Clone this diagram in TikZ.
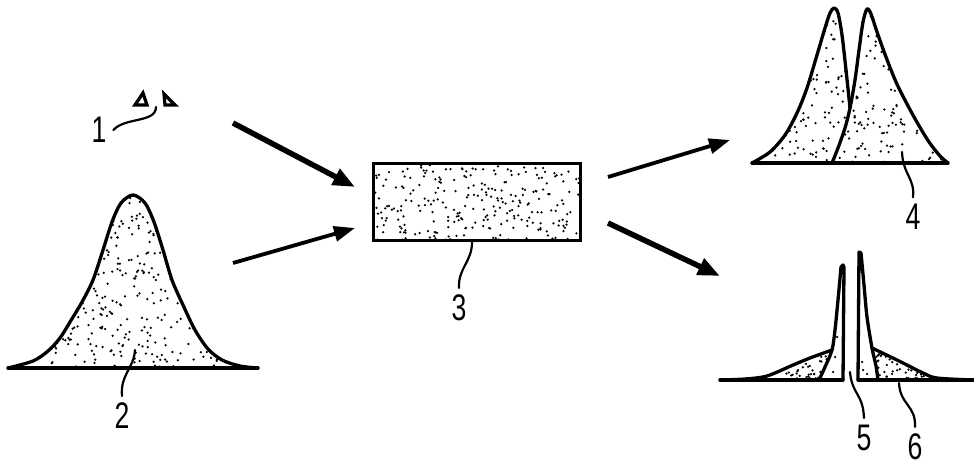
\documentclass[tikz,border=0pt]{standalone}
\usepackage{fontspec}
\setmainfont{Liberation Sans}
\usepackage{graphicx}
\usetikzlibrary{arrows.meta}
\newcommand{\mystipple}[5]{%
  \foreach \k in {1,...,#1}{%
    \pgfmathsetmacro{\px}{#2+rnd*(#3-#2)}%
    \pgfmathsetmacro{\py}{#4+rnd*(#5-#4)}%
    \fill (\px,\py) circle[radius=1.25pt];}}
\newcommand{\dig}[1]{\scalebox{0.72}[1]{#1}}
\begin{document}
\begin{tikzpicture}[x=1pt,y=-1pt,
  outline/.style={line width=3.3pt, line join=round, line cap=round},
  leader/.style={line width=2.2pt, line cap=round},
  bigarrow/.style={line width=5.5pt, -{Triangle[length=22pt,width=17pt]}},
  thinarrow/.style={line width=3.8pt, -{Triangle[length=21pt,width=15pt]}},
  lbl/.style={inner sep=0pt, outer sep=7pt, font=\fontsize{37}{39}\selectfont},
  spot/.style={fill=black}]
\useasboundingbox (0,0) rectangle (974,466);
\pgfmathsetseed{7}

% ---------- item 1 (two small triangles)
\draw[line width=3.2pt, line join=miter] (135,105) -- (143,93) -- (147,105) -- cycle;
\draw[line width=3.2pt, line join=miter] (164,94) -- (175,105) -- (165,105) -- cycle;
\coordinate (t1) at (156,107);

% ---------- item 2 (bell curve)
\begin{scope}
\clip plot[smooth] coordinates {(8,368) (33,361) (48,351) (60,338) (70,322) (82,302) (93,280) (103,250) (112,222) (121,203) (133,195) (145,203) (154,222) (163,250) (172,280) (183,305) (195,330) (208,349) (222,360) (240,366) (258,368)} -- cycle;
\mystipple{560}{8}{258}{195}{368}
\end{scope}
\draw[outline] plot[smooth] coordinates {(8,368) (33,361) (48,351) (60,338) (70,322) (82,302) (93,280) (103,250) (112,222) (121,203) (133,195) (145,203) (154,222) (163,250) (172,280) (183,305) (195,330) (208,349) (222,360) (240,366) (258,368)};
\coordinate (b2l) at (8,368);
\coordinate (b2r) at (258,368);
\draw[outline] (b2l) -- (b2r);
\coordinate (t2) at (135,350);

% ---------- item 3 (box)
\node[draw, line width=3.3pt, minimum width=207pt, minimum height=77pt, inner sep=0pt] (box) at (477,202) {};
\begin{scope}
\clip (box.south west) rectangle (box.north east);
\mystipple{260}{373}{581}{163}{241}
\end{scope}

% ---------- item 4 (double peak)
\begin{scope}
\clip plot[smooth] coordinates {(752,163) (770,152) (785,135) (797,113) (807,88) (817,55) (825,28) (830,13) (834,8) (838,13) (842,35) (846,70) (850,108)} -- plot[smooth] coordinates {(850,108) (855,80) (859,50) (863,22) (867,9) (871,14) (877,32) (886,57) (896,82) (907,104) (918,124) (929,142) (940,156) (948,163)} -- cycle;
\mystipple{330}{752}{948}{8}{163}
\end{scope}
\draw[outline] plot[smooth] coordinates {(752,163) (770,152) (785,135) (797,113) (807,88) (817,55) (825,28) (830,13) (834,8) (838,13) (842,35) (846,70) (850,108)};
\draw[outline] plot[smooth] coordinates {(832,163) (838,148) (845,128) (850,108) (855,80) (859,50) (863,22) (867,9) (871,14) (877,32) (886,57) (896,82) (907,104) (918,124) (929,142) (940,156) (948,163)};
\coordinate (b4l) at (752,163);
\coordinate (b4r) at (948,163);
\draw[outline] (b4l) -- (b4r);
\coordinate (t4) at (902,152);

% ---------- items 5 and 6 (split spikes)
\begin{scope}
\clip plot[smooth] coordinates {(720,380) (745,379) (767,376) (793,365) (810,358) (832,350)} -- plot[smooth] coordinates {(832,350) (825,367) (819,380)} -- cycle;
\mystipple{140}{720}{832}{348}{380}
\end{scope}
\begin{scope}
\clip plot[smooth] coordinates {(872,348) (897,360) (923,373) (937,378) (973,380)} -- plot[smooth] coordinates {(878,380) (876,366) (872,348)} -- cycle;
\mystipple{140}{872}{973}{348}{380}
\end{scope}
\fill[spot] (835,357) circle[radius=1.25pt];
\fill[spot] (837,337) circle[radius=1.25pt];
\fill[spot] (833,372) circle[radius=1.25pt];
\fill[spot] (862,362) circle[radius=1.25pt];
\fill[spot] (863,370) circle[radius=1.25pt];
\fill[spot] (867,374) circle[radius=1.25pt];
\draw[outline] plot[smooth] coordinates {(720,380) (745,379) (767,376) (793,365) (810,358) (832,350)};
\draw[outline] plot[smooth] coordinates {(819,380) (825,367) (832,350) (835,330) (838,300) (841,267)} -- (843,265) -- (844,267) -- (843,380);
\coordinate (b5l) at (720,380);
\coordinate (b5r) at (843,380);
\draw[outline] (b5l) -- (b5r);
\draw[outline] (858,380) -- (859,252) -- (861,253) -- plot[smooth] coordinates {(861,253) (864,285) (867,317) (872,348) (876,366) (878,380)};
\draw[outline] plot[smooth] coordinates {(872,348) (897,360) (923,373) (937,378) (973,380)};
\coordinate (b6l) at (858,380);
\coordinate (b6r) at (973,380);
\draw[outline] (b6l) -- (b6r);
\coordinate (t5) at (850,372);
\coordinate (t6) at (899,383);

% ---------- arrows
\coordinate (a1s) at (233,123); \coordinate (a1e) at (355,187);
\coordinate (a2s) at (233,263); \coordinate (a2e) at (355,228);
\coordinate (a3s) at (608,177); \coordinate (a3e) at (730,140);
\coordinate (a4s) at (608,223); \coordinate (a4e) at (720,276);
\draw[bigarrow] (a1s) -- (a1e);
\draw[thinarrow] (a2s) -- (a2e);
\draw[thinarrow] (a3s) -- (a3e);
\draw[bigarrow] (a4s) -- (a4e);

% ---------- labels and leaders
\node[lbl] (l1) at (99,130) {\dig{1}};
\node[lbl] (l2) at (122,416) {\dig{2}};
\node[lbl] (l3) at (459,308) {\dig{3}};
\node[lbl] (l4) at (913,217) {\dig{4}};
\node[lbl] (l5) at (864,438) {\dig{5}};
\node[lbl] (l6) at (915,447) {\dig{6}};
\draw[leader] (l1.east) .. controls (125,117) and (156,123) .. (t1);
\draw[leader] (l2.north) .. controls (120,375) and (134,368) .. (t2);
\draw[leader] (l3.north) .. controls (458,268) and (472,262) .. ([xshift=-5pt]box.south);
\draw[leader] (l4.north) .. controls (915,178) and (903,175) .. (t4);
\draw[leader] (l5.north) .. controls (863,393) and (852,395) .. (t5);
\draw[leader] (l6.north) .. controls (916,405) and (900,405) .. (t6);
\end{tikzpicture}
\end{document}
